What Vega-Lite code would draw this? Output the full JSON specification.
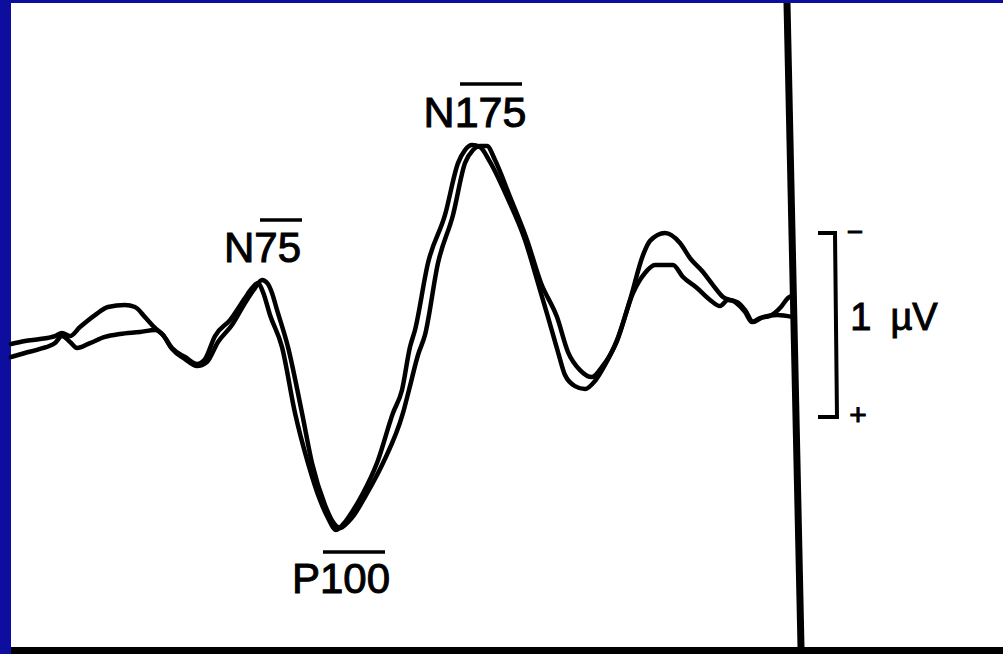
{
  "$schema": "https://vega.github.io/schema/vega-lite/v6.json",
  "autosize": {"type": "none"},
  "width": 992,
  "height": 651,
  "padding": {"left": 11, "top": 3, "right": 0, "bottom": 0},
  "background": "#0e0e9e",
  "config": {"view": {"fill": "white", "stroke": null}},
  "datasets": {
    "traces": [
      {"series": "A", "t": 0, "v": 0.103},
      {"series": "A", "t": 7, "v": 0.087},
      {"series": "A", "t": 14.5, "v": 0.076},
      {"series": "A", "t": 22, "v": 0.06},
      {"series": "A", "t": 25.5, "v": 0.043},
      {"series": "A", "t": 29.5, "v": 0.06},
      {"series": "A", "t": 34.5, "v": 0.011},
      {"series": "A", "t": 42, "v": -0.054},
      {"series": "A", "t": 48.5, "v": -0.098},
      {"series": "A", "t": 57, "v": -0.109},
      {"series": "A", "t": 62, "v": -0.098},
      {"series": "A", "t": 67, "v": -0.043},
      {"series": "A", "t": 72, "v": 0.016},
      {"series": "A", "t": 76, "v": 0.054},
      {"series": "A", "t": 80.5, "v": 0.125},
      {"series": "A", "t": 87, "v": 0.174},
      {"series": "A", "t": 93, "v": 0.212},
      {"series": "A", "t": 97, "v": 0.185},
      {"series": "A", "t": 102, "v": 0.06},
      {"series": "A", "t": 109.5, "v": -0.027},
      {"series": "A", "t": 117, "v": -0.147},
      {"series": "A", "t": 120.5, "v": -0.201},
      {"series": "A", "t": 123.5, "v": -0.228},
      {"series": "A", "t": 126, "v": -0.179},
      {"series": "A", "t": 129.5, "v": -0.054},
      {"series": "A", "t": 135.5, "v": 0.12},
      {"series": "A", "t": 142, "v": 0.478},
      {"series": "A", "t": 148.5, "v": 0.75},
      {"series": "A", "t": 154.5, "v": 0.951},
      {"series": "A", "t": 158.5, "v": 1.049},
      {"series": "A", "t": 162.5, "v": 1.114},
      {"series": "A", "t": 167, "v": 1.071},
      {"series": "A", "t": 169.5, "v": 1.033},
      {"series": "A", "t": 175.5, "v": 0.924},
      {"series": "A", "t": 183, "v": 0.75},
      {"series": "A", "t": 191, "v": 0.478},
      {"series": "A", "t": 195.5, "v": 0.353},
      {"series": "A", "t": 199.5, "v": 0.12},
      {"series": "A", "t": 202, "v": 0.027},
      {"series": "A", "t": 208.5, "v": -0.337},
      {"series": "A", "t": 217, "v": -0.598},
      {"series": "A", "t": 223.5, "v": -0.88},
      {"series": "A", "t": 227, "v": -0.951},
      {"series": "A", "t": 230.5, "v": -0.978},
      {"series": "A", "t": 234.5, "v": -0.967},
      {"series": "A", "t": 239.5, "v": -0.886},
      {"series": "A", "t": 248, "v": -0.696},
      {"series": "A", "t": 257, "v": -0.462},
      {"series": "A", "t": 263.5, "v": -0.228},
      {"series": "A", "t": 268.5, "v": -0.043},
      {"series": "A", "t": 273.5, "v": 0.147},
      {"series": "A", "t": 277, "v": 0.272},
      {"series": "A", "t": 282, "v": 0.332},
      {"series": "A", "t": 287, "v": 0.348},
      {"series": "A", "t": 292, "v": 0.304},
      {"series": "A", "t": 297, "v": 0.217},
      {"series": "A", "t": 303, "v": 0.082},
      {"series": "A", "t": 309.5, "v": -0.136},
      {"series": "A", "t": 316, "v": -0.38},
      {"series": "A", "t": 319.5, "v": -0.457},
      {"series": "A", "t": 327, "v": -0.5},
      {"series": "A", "t": 334.5, "v": -0.446},
      {"series": "A", "t": 339.5, "v": -0.364},
      {"series": "A", "t": 346, "v": -0.288},
      {"series": "A", "t": 351, "v": -0.217},
      {"series": "A", "t": 356, "v": -0.152},
      {"series": "A", "t": 362, "v": -0.125},
      {"series": "A", "t": 367, "v": -0.071},
      {"series": "A", "t": 370.5, "v": -0.016},
      {"series": "A", "t": 374.5, "v": -0.038},
      {"series": "A", "t": 379.5, "v": -0.049},
      {"series": "A", "t": 384.5, "v": -0.092},
      {"series": "A", "t": 388.5, "v": -0.147},
      {"series": "A", "t": 391, "v": -0.163},
      {"series": "B", "t": 0, "v": 0.174},
      {"series": "B", "t": 7, "v": 0.152},
      {"series": "B", "t": 14.5, "v": 0.13},
      {"series": "B", "t": 22, "v": 0.098},
      {"series": "B", "t": 25.5, "v": 0.06},
      {"series": "B", "t": 29.5, "v": 0.092},
      {"series": "B", "t": 33, "v": 0.125},
      {"series": "B", "t": 39.5, "v": 0.098},
      {"series": "B", "t": 47, "v": 0.065},
      {"series": "B", "t": 54.5, "v": 0.049},
      {"series": "B", "t": 64.5, "v": 0.038},
      {"series": "B", "t": 72, "v": 0.027},
      {"series": "B", "t": 76, "v": 0.054},
      {"series": "B", "t": 80.5, "v": 0.13},
      {"series": "B", "t": 87, "v": 0.185},
      {"series": "B", "t": 93, "v": 0.223},
      {"series": "B", "t": 98, "v": 0.201},
      {"series": "B", "t": 103.5, "v": 0.092},
      {"series": "B", "t": 110.5, "v": 0},
      {"series": "B", "t": 117, "v": -0.12},
      {"series": "B", "t": 122, "v": -0.201},
      {"series": "B", "t": 125.5, "v": -0.245},
      {"series": "B", "t": 128.5, "v": -0.223},
      {"series": "B", "t": 130.5, "v": -0.174},
      {"series": "B", "t": 133, "v": -0.082},
      {"series": "B", "t": 138.5, "v": 0.12},
      {"series": "B", "t": 145.5, "v": 0.478},
      {"series": "B", "t": 150.5, "v": 0.75},
      {"series": "B", "t": 157, "v": 0.978},
      {"series": "B", "t": 161, "v": 1.071},
      {"series": "B", "t": 164.5, "v": 1.103},
      {"series": "B", "t": 168.5, "v": 1.071},
      {"series": "B", "t": 171.5, "v": 1.033},
      {"series": "B", "t": 177.5, "v": 0.924},
      {"series": "B", "t": 186, "v": 0.75},
      {"series": "B", "t": 196, "v": 0.478},
      {"series": "B", "t": 199, "v": 0.353},
      {"series": "B", "t": 203.5, "v": 0.163},
      {"series": "B", "t": 207, "v": 0.054},
      {"series": "B", "t": 213.5, "v": -0.337},
      {"series": "B", "t": 221, "v": -0.598},
      {"series": "B", "t": 227, "v": -0.88},
      {"series": "B", "t": 231, "v": -0.951},
      {"series": "B", "t": 234.5, "v": -0.973},
      {"series": "B", "t": 238, "v": -0.973},
      {"series": "B", "t": 242, "v": -0.897},
      {"series": "B", "t": 249.5, "v": -0.696},
      {"series": "B", "t": 258, "v": -0.462},
      {"series": "B", "t": 265, "v": -0.228},
      {"series": "B", "t": 273, "v": -0.043},
      {"series": "B", "t": 278.5, "v": 0.147},
      {"series": "B", "t": 284.5, "v": 0.245},
      {"series": "B", "t": 290.5, "v": 0.283},
      {"series": "B", "t": 295.5, "v": 0.228},
      {"series": "B", "t": 303, "v": 0.087},
      {"series": "B", "t": 311, "v": -0.174},
      {"series": "B", "t": 317, "v": -0.283},
      {"series": "B", "t": 322, "v": -0.326},
      {"series": "B", "t": 331, "v": -0.326},
      {"series": "B", "t": 336, "v": -0.261},
      {"series": "B", "t": 343, "v": -0.201},
      {"series": "B", "t": 349.5, "v": -0.136},
      {"series": "B", "t": 354.5, "v": -0.103},
      {"series": "B", "t": 358.5, "v": -0.136},
      {"series": "B", "t": 363, "v": -0.125},
      {"series": "B", "t": 367, "v": -0.082},
      {"series": "B", "t": 371, "v": -0.016},
      {"series": "B", "t": 376, "v": -0.043},
      {"series": "B", "t": 383, "v": -0.054},
      {"series": "B", "t": 391, "v": -0.043}
    ],
    "strip": [{"t0": 0, "t1": 496, "v0": 1.75, "v1": 1.788}],
    "vline": [
      {"k": 0, "t": 388, "v": -1.75},
      {"k": 1, "t": 395, "v": 1.75}
    ],
    "bracket": [
      {"k": 0, "t": 403.5, "v": -0.5},
      {"k": 1, "t": 412, "v": -0.5},
      {"k": 2, "t": 413, "v": 0.5},
      {"k": 3, "t": 403.5, "v": 0.5}
    ],
    "overlines": [
      {"t1": 124.5, "t2": 145.5, "v": -0.571},
      {"t1": 224.5, "t2": 255.5, "v": -1.31},
      {"t1": 156, "t2": 187, "v": 1.234}
    ],
    "labels": [
      {"text": "N75", "t": 125.75, "v": -0.342, "size": 42},
      {"text": "N175", "t": 232, "v": -1.076, "size": 43},
      {"text": "P100", "t": 165, "v": 1.457, "size": 42},
      {"text": "1\u2002µV", "t": 441.5, "v": 0.027, "size": 38}
    ],
    "signs": [
      {"text": "−", "t": 422, "v": -0.5, "size": 28},
      {"text": "+", "t": 423.5, "v": 0.495, "size": 30}
    ]
  },
  "layer": [
    {
      "data": {"name": "strip"},
      "mark": {"type": "rect", "color": "black"},
      "encoding": {
        "x": {"field": "t0", "type": "quantitative", "scale": {"domain": [0, 496], "nice": false, "zero": false}, "axis": null},
        "x2": {"field": "t1"},
        "y": {"field": "v0", "type": "quantitative", "scale": {"domain": [-1.75, 1.788], "nice": false, "zero": false, "reverse": true}, "axis": null},
        "y2": {"field": "v1"}
      }
    },
    {
      "data": {"name": "traces"},
      "mark": {"type": "line", "color": "black", "strokeWidth": 4.5, "interpolate": "monotone", "strokeCap": "round", "strokeJoin": "round"},
      "encoding": {
        "x": {"field": "t", "type": "quantitative", "scale": {"domain": [0, 496], "nice": false, "zero": false}, "axis": null},
        "y": {"field": "v", "type": "quantitative", "scale": {"domain": [-1.75, 1.788], "nice": false, "zero": false, "reverse": true}, "axis": null},
        "detail": {"field": "series"}
      }
    },
    {
      "data": {"name": "vline"},
      "mark": {"type": "line", "color": "black", "strokeWidth": 7},
      "encoding": {
        "x": {"field": "t", "type": "quantitative", "scale": {"domain": [0, 496], "nice": false, "zero": false}, "axis": null},
        "y": {"field": "v", "type": "quantitative", "scale": {"domain": [-1.75, 1.788], "nice": false, "zero": false, "reverse": true}, "axis": null},
        "order": {"field": "k"}
      }
    },
    {
      "data": {"name": "bracket"},
      "mark": {"type": "line", "color": "black", "strokeWidth": 4},
      "encoding": {
        "x": {"field": "t", "type": "quantitative", "scale": {"domain": [0, 496], "nice": false, "zero": false}, "axis": null},
        "y": {"field": "v", "type": "quantitative", "scale": {"domain": [-1.75, 1.788], "nice": false, "zero": false, "reverse": true}, "axis": null},
        "order": {"field": "k"}
      }
    },
    {
      "data": {"name": "overlines"},
      "mark": {"type": "rule", "color": "black", "strokeWidth": 3.5},
      "encoding": {
        "x": {"field": "t1", "type": "quantitative", "scale": {"domain": [0, 496], "nice": false, "zero": false}, "axis": null},
        "x2": {"field": "t2"},
        "y": {"field": "v", "type": "quantitative", "scale": {"domain": [-1.75, 1.788], "nice": false, "zero": false, "reverse": true}, "axis": null}
      }
    },
    {
      "data": {"name": "labels"},
      "mark": {"type": "text", "color": "black", "stroke": "black", "strokeWidth": 1, "font": "Liberation Sans", "baseline": "alphabetic", "align": "center"},
      "encoding": {
        "x": {"field": "t", "type": "quantitative", "scale": {"domain": [0, 496], "nice": false, "zero": false}, "axis": null},
        "y": {"field": "v", "type": "quantitative", "scale": {"domain": [-1.75, 1.788], "nice": false, "zero": false, "reverse": true}, "axis": null},
        "text": {"field": "text"},
        "size": {"field": "size", "type": "quantitative", "scale": null}
      }
    },
    {
      "data": {"name": "signs"},
      "mark": {"type": "text", "color": "black", "stroke": "black", "strokeWidth": 1, "font": "Liberation Sans", "baseline": "middle", "align": "center"},
      "encoding": {
        "x": {"field": "t", "type": "quantitative", "scale": {"domain": [0, 496], "nice": false, "zero": false}, "axis": null},
        "y": {"field": "v", "type": "quantitative", "scale": {"domain": [-1.75, 1.788], "nice": false, "zero": false, "reverse": true}, "axis": null},
        "text": {"field": "text"},
        "size": {"field": "size", "type": "quantitative", "scale": null}
      }
    }
  ]
}
